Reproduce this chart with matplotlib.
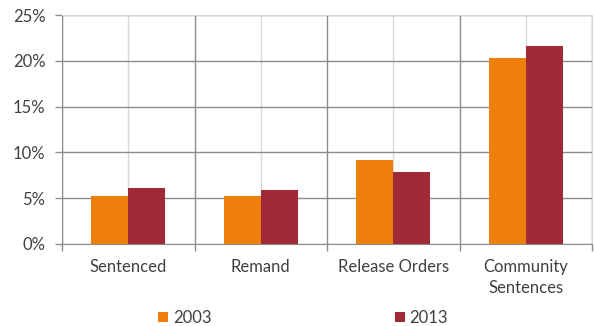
import matplotlib.pyplot as plt
from matplotlib.ticker import FixedLocator, PercentFormatter
import numpy as np

plt.rcParams['font.family'] = ['Lato', 'DejaVu Sans']

categories = ['Sentenced', 'Remand', 'Release Orders', 'Community\nSentences']
years = ['2003', '2013']
values_2003 = [5.25, 5.25, 9.2, 20.3]
values_2013 = [6.1, 5.85, 7.9, 21.6]

c2003 = '#EE7F0B'
c2013 = '#A12A37'
dark = '#8C8C8C'
light = '#D9D9D9'
txt = '#404040'

fig = plt.figure(figsize=(5.94, 3.26), dpi=100)
ax = fig.add_axes([62 / 594, 1 - 244 / 326, 530 / 594, 229 / 326])

x = np.arange(len(categories))
w = 0.28
ax.bar(x - w / 2, values_2003, w, color=c2003, label=years[0], zorder=3)
ax.bar(x + w / 2, values_2013, w, color=c2013, label=years[1], zorder=3)

ax.set_xlim(-0.5, len(categories) - 0.5)
ax.set_ylim(0, 25)
ax.yaxis.set_major_locator(FixedLocator([0, 5, 10, 15, 20, 25]))
ax.yaxis.set_major_formatter(PercentFormatter(decimals=0))

# boundaries as major ticks, labels at category centres as minor ticks
ax.xaxis.set_major_locator(FixedLocator(np.arange(len(categories) + 1) - 0.5))
ax.xaxis.set_major_formatter(plt.NullFormatter())
ax.set_xticks(x, minor=True)
ax.set_xticklabels(categories, minor=True, linespacing=1.35)
ax.tick_params(axis='x', which='minor', length=0, pad=11, labelsize=12, labelcolor=txt)
ax.tick_params(axis='x', which='major', length=5, color=dark, width=1)
ax.tick_params(axis='y', length=5, color=dark, width=1, labelsize=12, labelcolor=txt, pad=7)

ax.grid(axis='y', color=dark, linewidth=1, zorder=0)
ax.grid(axis='x', which='major', color=dark, linewidth=1, zorder=0)
ax.grid(axis='x', which='minor', color=light, linewidth=1, zorder=0)
ax.set_axisbelow(True)

for s in ['left', 'bottom']:
    ax.spines[s].set_color(dark)
for s in ['top', 'right']:
    ax.spines[s].set_color(light)

fig.legend(loc='lower center', bbox_to_anchor=(0.51, -0.045), ncol=2, frameon=False,
           fontsize=12, handlelength=0.6, handleheight=0.6, handletextpad=0.3,
           columnspacing=11.0, labelcolor=txt)

fig.savefig('out.png', dpi=100)
